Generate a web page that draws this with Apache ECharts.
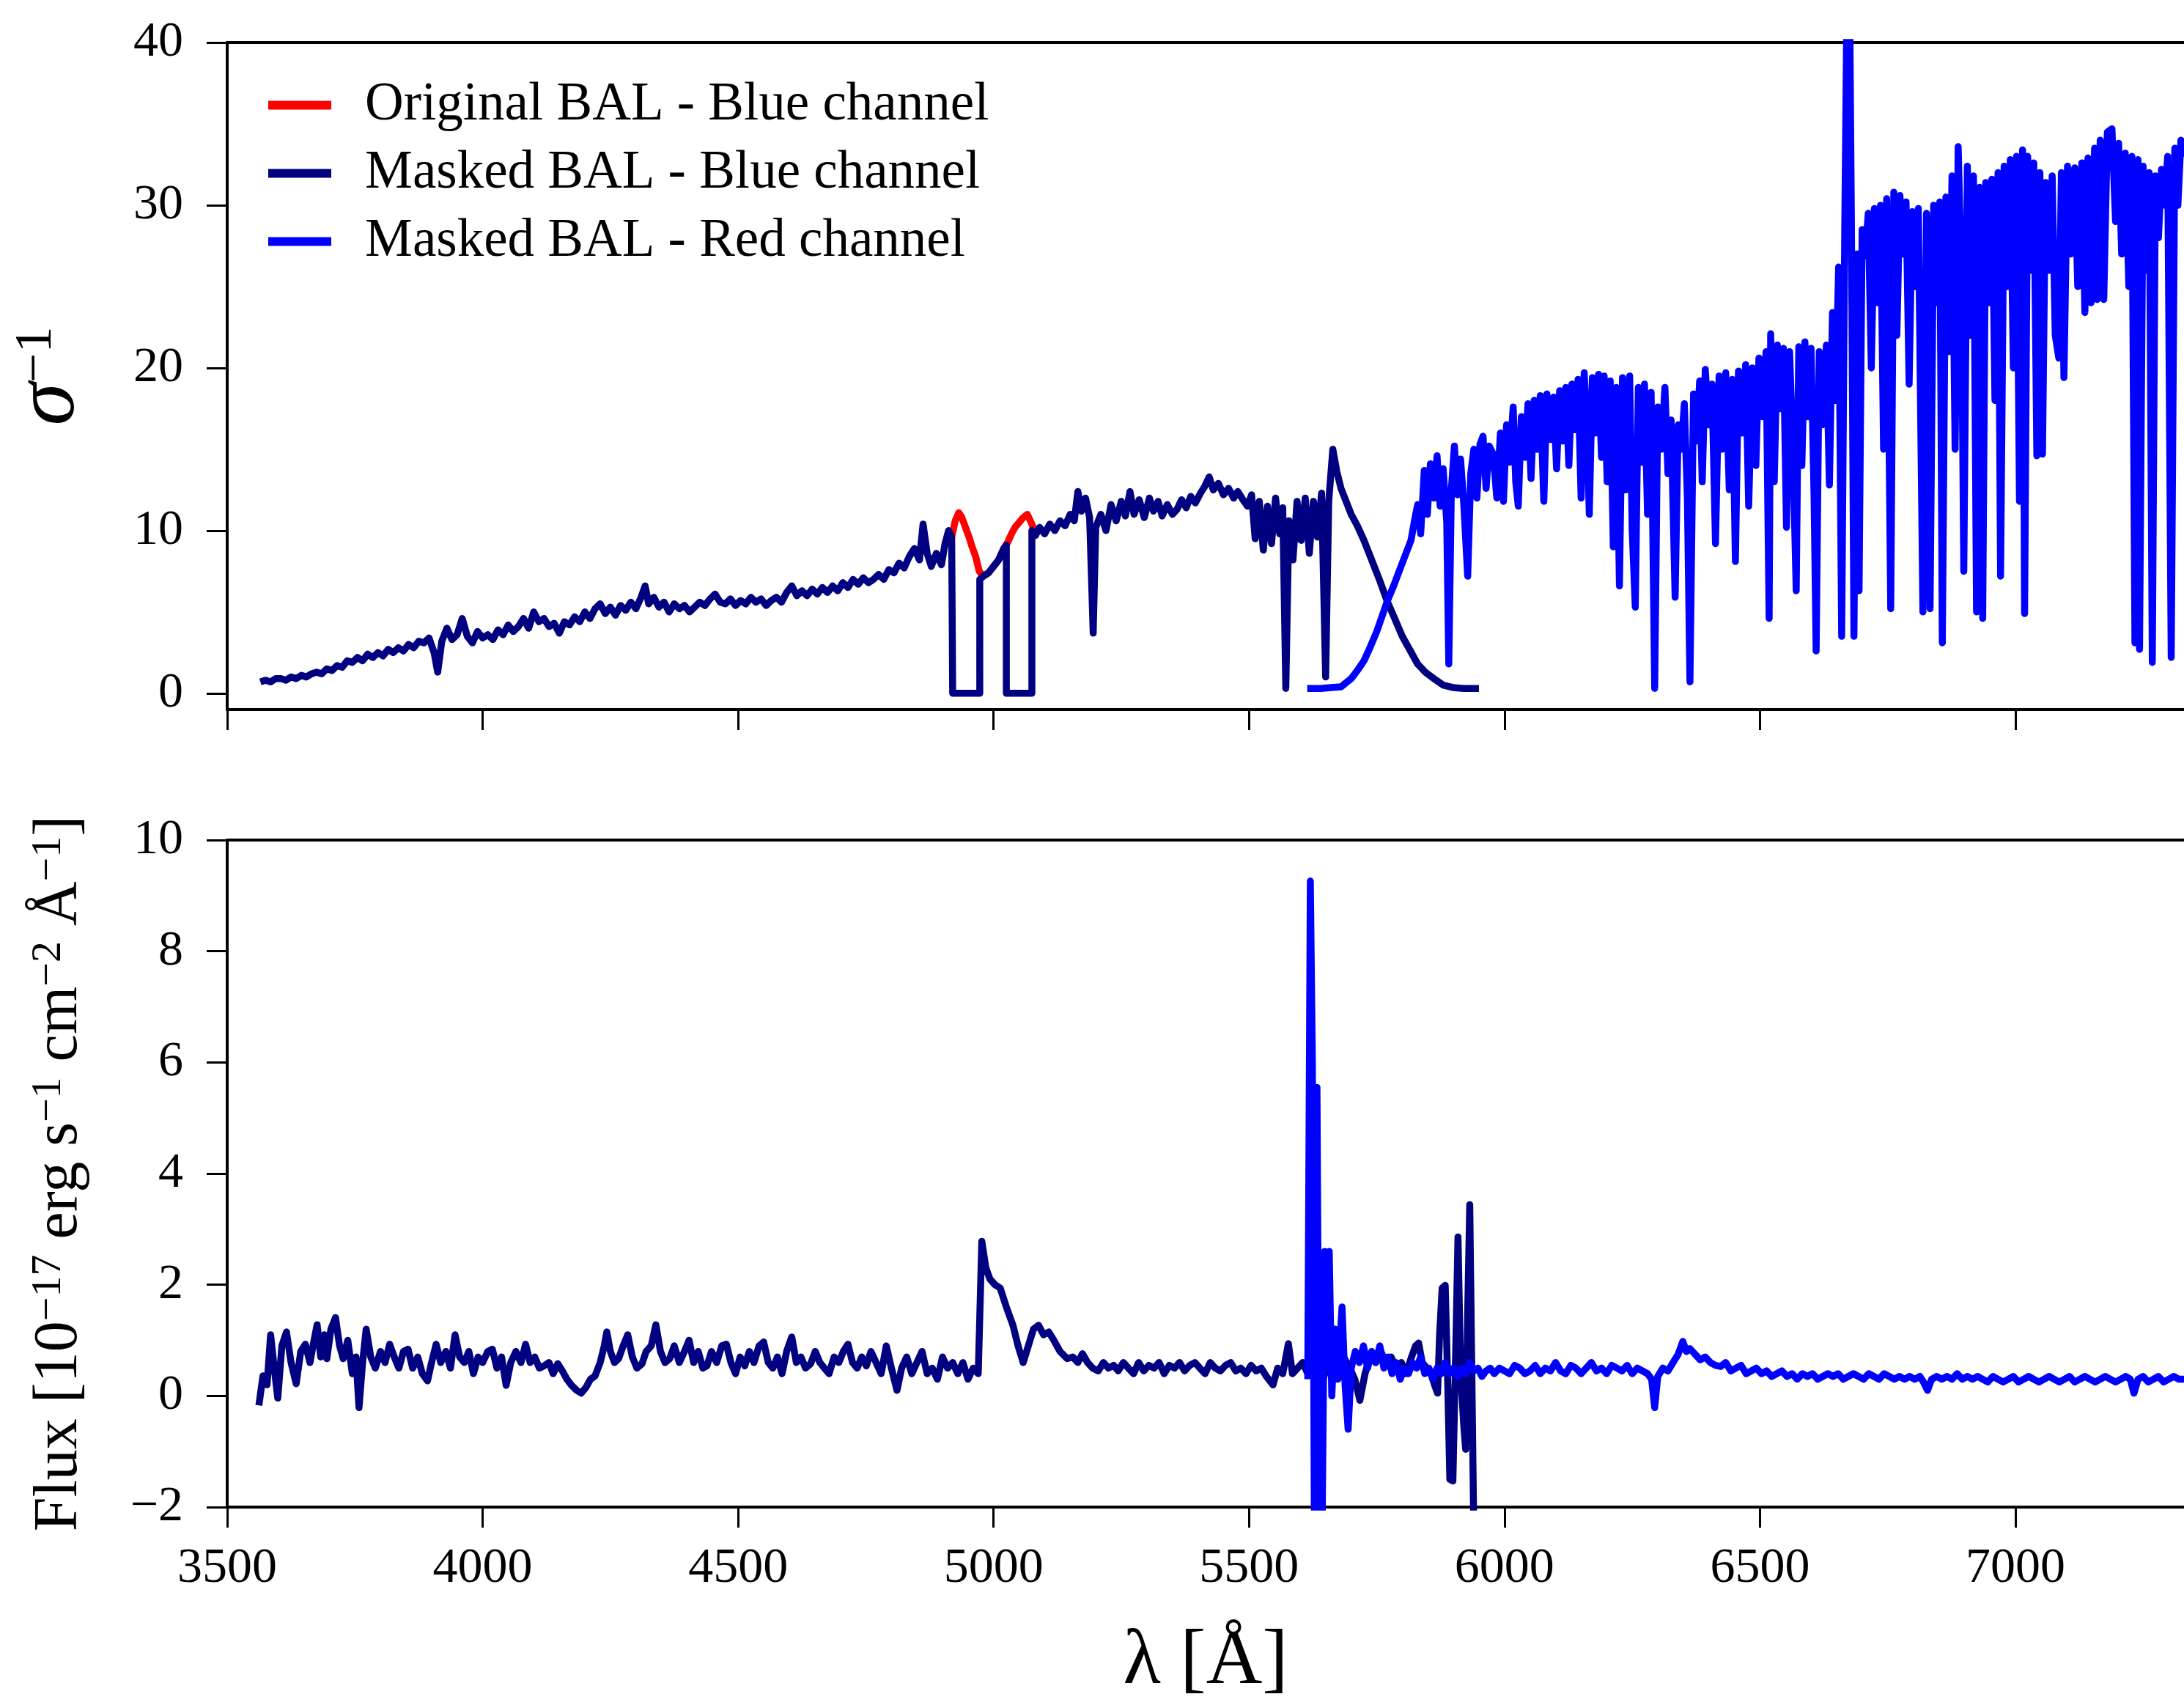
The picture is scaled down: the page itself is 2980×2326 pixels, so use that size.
<!DOCTYPE html>
<html><head><meta charset="utf-8">
<script src="https://cdn.jsdelivr.net/npm/echarts@6/dist/echarts.min.js"></script>
<style>html,body{margin:0;padding:0;background:#fff}#c{width:2980px;height:2326px}</style>
</head><body><div id="c"></div>
<script>
// ---------- tick labels ----------
const xTicks = [3500, 4000, 4500, 5000, 5500, 6000, 6500, 7000];
const sigmaTicks = [0, 10, 20, 30, 40];
const seriesNames = ['Original BAL - Blue channel', 'Masked BAL - Blue channel', 'Masked BAL - Red channel'];

// ---------- top panel: inverse noise sigma^-1 ----------
const sigmaOriginalBlue = [
[4912,10.0],[4918,9.6],[4925,10.6],[4932,11.1],[4938,10.8],[4945,10.2],[4952,9.6],[4958,9.0],[4965,8.4],[4972,7.5],
[4980,7.2],[4990,7.4],[5000,7.8],[5010,8.2],[5020,8.9],[5028,9.3],[5035,9.8],[5042,10.2],[5050,10.5],[5058,10.8],
[5066,11.0],[5075,10.4],[5082,9.7]
];
const sigmaMaskedBlue = [
[3565,0.7],[3575,0.8],[3585,0.7],[3595,0.9],[3605,0.9],[3615,0.8],[3625,1.0],[3635,0.9],[3645,1.1],[3655,1.0],
[3665,1.2],[3675,1.3],[3685,1.2],[3695,1.5],[3705,1.4],[3715,1.7],[3725,1.6],[3735,2.0],[3745,1.9],[3755,2.2],
[3765,2.0],[3775,2.4],[3785,2.2],[3795,2.5],[3805,2.3],[3815,2.7],[3825,2.5],[3835,2.8],[3845,2.6],[3855,3.0],
[3865,2.8],[3875,3.2],[3885,3.1],[3895,3.4],[3905,2.5],[3912,1.3],[3920,3.2],[3930,4.0],[3940,3.3],[3950,3.6],
[3960,4.6],[3970,3.5],[3980,3.1],[3990,3.8],[4000,3.4],[4010,3.6],[4020,3.3],[4030,3.9],[4040,3.6],[4050,4.2],
[4060,3.8],[4070,4.1],[4080,4.6],[4090,4.0],[4100,5.0],[4110,4.4],[4120,4.6],[4130,4.1],[4140,4.3],[4150,3.7],
[4160,4.4],[4170,4.2],[4180,4.7],[4190,4.4],[4200,5.0],[4210,4.6],[4220,5.2],[4230,5.5],[4240,4.9],[4250,5.3],
[4260,4.8],[4270,5.4],[4280,5.1],[4290,5.6],[4300,5.2],[4310,5.9],[4318,6.6],[4325,5.5],[4335,5.9],[4345,5.3],
[4355,5.6],[4365,5.0],[4375,5.5],[4385,5.2],[4395,5.4],[4405,5.0],[4415,5.3],[4425,5.6],[4435,5.4],[4445,5.8],
[4455,6.1],[4465,5.6],[4475,5.5],[4485,5.8],[4495,5.4],[4505,5.7],[4515,5.5],[4525,5.9],[4535,5.6],[4545,5.8],
[4555,5.4],[4565,5.7],[4575,5.9],[4585,5.6],[4595,6.2],[4605,6.6],[4615,6.0],[4625,6.3],[4635,6.0],[4645,6.4],
[4655,6.1],[4665,6.5],[4675,6.2],[4685,6.6],[4695,6.3],[4705,6.8],[4715,6.5],[4725,7.0],[4735,6.7],[4745,7.1],
[4755,6.8],[4765,7.0],[4775,7.3],[4785,7.0],[4795,7.6],[4805,7.4],[4815,8.0],[4825,7.7],[4835,8.4],[4845,8.9],
[4855,8.2],[4862,10.4],[4870,8.6],[4878,7.8],[4888,8.6],[4898,7.9],[4905,9.2],[4912,10.0],[4918,9.6],[4920,9.6],
[4920,0],[4973,0],[4973,7.0],[4980,7.2],[4990,7.4],[5000,7.8],[5010,8.2],[5020,8.9],[5025,9.1],[5025,0],
[5075,0],[5075,10.0],[5082,9.7],[5090,10.2],[5100,9.8],[5110,10.4],[5120,10.0],[5130,10.6],[5140,10.3],[5150,11.0],
[5158,10.6],[5165,12.4],[5172,11.2],[5180,12.0],[5188,10.8],[5195,3.7],[5200,10.2],[5210,11.0],[5220,10.0],[5230,11.6],
[5240,10.6],[5250,11.8],[5258,10.9],[5267,12.4],[5275,11.0],[5285,11.9],[5295,10.8],[5305,12.0],[5313,11.2],[5322,11.8],
[5330,10.9],[5340,11.6],[5350,11.0],[5359,11.3],[5368,11.9],[5377,11.4],[5386,12.1],[5395,11.7],[5405,12.3],[5413,12.7],
[5422,13.3],[5430,12.5],[5440,12.9],[5450,12.2],[5460,12.6],[5470,12.0],[5478,12.4],[5488,11.9],[5497,11.5],[5505,12.2],
[5512,9.5],[5520,11.8],[5528,8.8],[5536,11.5],[5544,9.2],[5552,12.0],[5560,9.8],[5566,11.4],[5572,0.3],[5578,10.6],
[5586,8.2],[5594,11.8],[5602,9.4],[5610,12.0],[5618,8.6],[5626,11.8],[5634,9.6],[5642,12.3],[5650,1.0],[5656,11.8],
[5664,15.0],[5672,13.6],[5680,12.6],[5690,11.8],[5700,11.0],[5712,10.3],[5725,9.4],[5740,8.2],[5755,7.0],[5770,5.7],
[5785,4.6],[5800,3.5],[5816,2.6],[5830,1.8],[5845,1.3],[5862,0.9],[5880,0.5],[5900,0.35],[5920,0.3],[5950,0.3]
];
const sigmaMaskedRed = [
[5614,0.3],[5640,0.3],[5660,0.35],[5680,0.4],[5700,0.9],[5712,1.4],[5725,2.0],[5738,2.9],[5750,3.8],[5760,4.7],
[5771,5.7],[5783,6.6],[5795,7.6],[5806,8.5],[5817,9.4],[5825,10.8],[5830,11.6],[5836,9.8],[5843,13.7],[5849,11.0],
[5855,14.1],[5862,12.0],[5868,14.6],[5874,11.5],[5880,13.8],[5887,10.5],[5891,1.8],[5896,12.5],[5902,15.2],[5908,12.2],
[5914,14.4],[5920,11.8],[5928,7.2],[5934,13.5],[5940,15.0],[5946,12.0],[5952,15.3],[5958,15.8],[5964,12.6],[5970,15.2],
[5978,14.7],[5985,12.0],[5992,16.0],[5998,11.8],[6004,16.5],[6010,14.2],[6017,17.6],[6022,13.0],[6027,11.5],[6033,17.0],
[6040,14.5],[6046,17.8],[6052,13.2],[6058,18.0],[6064,15.0],[6070,18.3],[6077,11.8],[6083,18.4],[6090,15.6],[6096,18.2],
[6102,13.8],[6108,18.6],[6114,15.5],[6120,18.8],[6126,14.0],[6132,19.0],[6138,16.2],[6144,19.3],[6150,12.0],[6156,19.7],
[6162,15.8],[6166,11.0],[6172,19.4],[6178,16.0],[6184,19.6],[6190,14.5],[6195,19.5],[6201,13.0],[6207,19.2],[6213,9.0],
[6219,18.8],[6225,6.6],[6231,19.4],[6237,12.5],[6245,19.5],[6250,10.0],[6256,5.3],[6262,18.8],[6268,14.2],[6274,19.0],
[6280,11.0],[6287,18.5],[6294,0.3],[6300,17.6],[6307,15.0],[6314,18.8],[6320,13.5],[6326,16.8],[6334,5.9],[6340,16.5],
[6346,15.0],[6352,17.8],[6358,12.0],[6363,0.7],[6370,18.4],[6376,15.5],[6382,19.2],[6387,13.0],[6393,19.9],[6400,16.5],
[6406,19.0],[6413,9.2],[6420,19.5],[6426,15.0],[6433,19.7],[6440,12.5],[6446,19.3],[6452,8.1],[6458,19.8],[6465,16.0],
[6472,20.2],[6478,11.5],[6485,20.0],[6492,14.0],[6498,20.6],[6505,17.0],[6512,21.0],[6518,4.6],[6521,22.1],[6528,13.0],
[6534,21.4],[6540,17.5],[6546,21.2],[6552,10.2],[6558,21.0],[6564,15.5],[6571,6.3],[6576,21.3],[6582,14.0],[6588,21.6],
[6594,17.0],[6600,21.2],[6606,12.0],[6610,2.6],[6616,21.0],[6622,16.5],[6630,21.4],[6636,12.8],[6642,23.4],[6648,18.0],
[6654,26.2],[6660,3.5],[6666,28.5],[6671,45],[6675,45],[6679,29.0],[6684,3.5],[6690,27.0],[6694,6.3],[6700,28.5],
[6706,26.9],[6712,29.5],[6718,20.0],[6724,29.8],[6730,24.0],[6736,30.0],[6742,15.0],[6748,30.4],[6756,5.2],[6762,30.8],
[6768,22.0],[6774,30.6],[6780,27.0],[6786,30.2],[6792,19.0],[6798,29.6],[6804,25.0],[6810,29.8],[6819,5.0],[6826,29.5],
[6833,5.2],[6840,30.0],[6846,24.0],[6852,30.2],[6857,3.1],[6864,30.5],[6870,21.0],[6876,31.8],[6882,15.0],[6888,33.6],
[6894,26.0],[6899,7.5],[6906,32.4],[6912,22.0],[6918,31.8],[6924,5.0],[6930,31.1],[6936,4.6],[6942,31.4],[6948,24.0],
[6954,31.6],[6960,18.0],[6966,32.0],[6971,7.2],[6978,32.4],[6984,25.0],[6990,32.8],[6996,20.0],[7002,33.0],[7008,11.8],
[7014,33.4],[7018,4.9],[7024,33.0],[7030,26.0],[7036,32.6],[7042,14.6],[7048,32.0],[7053,14.7],[7059,31.4],[7066,26.0],
[7072,31.8],[7078,22.0],[7085,20.6],[7090,32.0],[7095,19.4],[7102,32.4],[7108,27.0],[7116,32.3],[7122,25.0],[7130,32.6],
[7136,23.4],[7142,32.9],[7148,24.0],[7155,33.5],[7160,24.2],[7166,34.0],[7173,24.2],[7180,34.5],[7189,34.7],[7196,29.0],
[7202,33.8],[7208,27.0],[7215,33.2],[7222,25.0],[7228,33.0],[7234,3.1],[7240,32.8],[7243,2.7],[7250,32.4],[7256,26.0],
[7262,32.0],[7268,1.9],[7274,31.8],[7280,28.0],[7286,32.2],[7292,30.0],[7298,33.0],[7305,2.2],[7312,33.5],[7318,30.0],
[7324,34.0],[7332,33.0]
];

// ---------- bottom panel: flux ----------
const fluxMaskedBlue = [
[3562,-0.17],[3570,0.36],[3578,0.2],[3585,1.1],[3592,0.5],[3599,-0.04],[3607,0.9],[3616,1.15],[3625,0.6],[3635,0.22],
[3644,0.8],[3653,0.93],[3662,0.6],[3670,1.0],[3676,1.28],[3683,0.7],[3690,1.1],[3695,0.67],[3703,1.2],[3712,1.41],
[3720,0.9],[3727,0.67],[3736,1.0],[3745,0.4],[3752,0.7],[3758,-0.21],[3765,0.6],[3772,1.2],[3781,0.7],[3790,0.5],
[3800,0.8],[3809,0.6],[3818,0.93],[3827,0.7],[3836,0.5],[3845,0.8],[3854,0.84],[3863,0.5],[3873,0.7],[3882,0.4],
[3892,0.27],[3900,0.6],[3909,0.93],[3918,0.6],[3928,0.8],[3937,0.5],[3946,1.1],[3955,0.7],[3964,0.6],[3973,0.8],
[3982,0.4],[3991,0.7],[4000,0.6],[4010,0.8],[4019,0.84],[4028,0.5],[4037,0.7],[4046,0.19],[4055,0.6],[4065,0.8],
[4075,0.6],[4084,0.93],[4093,0.6],[4102,0.7],[4111,0.5],[4120,0.54],[4130,0.6],[4138,0.4],[4147,0.58],[4156,0.45],
[4165,0.3],[4174,0.19],[4184,0.1],[4193,0.05],[4202,0.15],[4211,0.3],[4220,0.36],[4230,0.6],[4238,0.9],[4243,1.15],
[4250,0.8],[4258,0.6],[4266,0.67],[4275,0.9],[4284,1.1],[4293,0.7],[4302,0.5],[4312,0.58],[4320,0.8],[4330,0.9],
[4339,1.28],[4348,0.8],[4357,0.6],[4366,0.67],[4375,0.9],[4385,0.6],[4395,0.8],[4404,1.0],[4413,0.6],[4422,0.8],
[4431,0.5],[4439,0.54],[4448,0.8],[4458,0.6],[4468,0.9],[4477,0.93],[4486,0.6],[4495,0.4],[4504,0.7],[4513,0.54],
[4522,0.8],[4531,0.6],[4541,0.9],[4550,0.97],[4559,0.6],[4568,0.5],[4577,0.7],[4586,0.4],[4595,0.8],[4605,1.06],
[4614,0.6],[4623,0.7],[4632,0.5],[4642,0.58],[4651,0.8],[4660,0.6],[4669,0.5],[4678,0.4],[4688,0.7],[4697,0.6],
[4706,0.8],[4715,0.93],[4724,0.6],[4733,0.5],[4742,0.7],[4751,0.54],[4760,0.8],[4770,0.6],[4780,0.4],[4790,0.9],
[4800,0.5],[4811,0.1],[4820,0.5],[4830,0.7],[4840,0.4],[4850,0.6],[4860,0.8],[4870,0.4],[4880,0.5],[4890,0.3],
[4900,0.7],[4910,0.5],[4920,0.6],[4930,0.4],[4940,0.6],[4950,0.3],[4960,0.5],[4970,0.4],[4977,2.78],[4985,2.3],
[4993,2.1],[5003,2.0],[5013,1.94],[5025,1.6],[5038,1.27],[5048,0.9],[5058,0.6],[5068,0.9],[5078,1.2],[5088,1.27],
[5098,1.1],[5108,1.15],[5118,1.0],[5130,0.8],[5144,0.67],[5155,0.7],[5165,0.6],[5174,0.76],[5184,0.6],[5194,0.5],
[5205,0.45],[5215,0.6],[5225,0.5],[5235,0.55],[5244,0.45],[5254,0.6],[5264,0.5],[5274,0.4],[5284,0.6],[5294,0.45],
[5304,0.55],[5314,0.5],[5324,0.6],[5334,0.4],[5344,0.55],[5354,0.5],[5364,0.6],[5374,0.45],[5384,0.55],[5394,0.6],
[5404,0.5],[5414,0.4],[5424,0.6],[5434,0.5],[5444,0.45],[5454,0.55],[5464,0.6],[5474,0.45],[5484,0.5],[5494,0.4],
[5504,0.55],[5514,0.45],[5524,0.5],[5534,0.35],[5547,0.2],[5556,0.5],[5566,0.4],[5577,0.94],[5585,0.4],[5595,0.5],
[5605,0.6],[5615,0.4],[5625,0.7],[5635,0.5],[5645,0.3],[5655,0.6],[5665,0.8],[5675,0.5],[5685,0.7],[5697,0.5],
[5707,0.3],[5717,-0.08],[5727,0.4],[5737,0.7],[5748,0.6],[5758,0.8],[5768,0.6],[5778,0.7],[5788,0.5],[5798,0.6],
[5808,0.4],[5818,0.7],[5826,0.9],[5832,0.95],[5839,0.6],[5848,0.5],[5856,0.4],[5863,0.2],[5869,0.05],[5873,1.1],
[5878,1.94],[5884,1.99],[5889,0.2],[5893,-1.5],[5899,-1.53],[5905,1.0],[5909,2.86],[5914,0.5],[5920,-0.5],[5924,-0.96],
[5928,1.5],[5932,3.44],[5936,0.5],[5940,-2.5],[5944,-2.5]
];
const fluxMaskedRed = [
[5615,0.3],[5620,9.26],[5624,6.0],[5628,-2.5],[5633,5.55],[5638,-2.5],[5643,-2.5],[5648,2.6],[5652,0.5],[5657,2.6],
[5662,0.0],[5668,1.2],[5674,0.3],[5682,1.6],[5688,0.2],[5694,-0.6],[5700,0.5],[5708,0.8],[5716,0.6],[5724,0.9],
[5732,0.5],[5740,0.8],[5748,0.6],[5756,0.9],[5764,0.5],[5772,0.7],[5780,0.4],[5788,0.6],[5796,0.3],[5804,0.5],
[5812,0.4],[5820,0.6],[5828,0.5],[5836,0.7],[5844,0.4],[5852,0.5],[5860,0.3],[5868,0.5],[5876,0.4],[5884,0.6],
[5892,0.4],[5900,0.5],[5908,0.35],[5916,0.5],[5924,0.4],[5932,0.6],[5940,0.45],[5948,0.5],[5956,0.35],[5964,0.45],
[5972,0.5],[5980,0.4],[5990,0.5],[6000,0.45],[6010,0.4],[6020,0.55],[6030,0.5],[6040,0.4],[6050,0.45],[6060,0.55],
[6070,0.4],[6080,0.5],[6090,0.45],[6100,0.6],[6110,0.45],[6120,0.4],[6130,0.55],[6140,0.5],[6150,0.4],[6160,0.5],
[6170,0.6],[6180,0.45],[6190,0.5],[6200,0.4],[6210,0.55],[6220,0.5],[6230,0.45],[6240,0.55],[6250,0.4],[6260,0.5],
[6270,0.45],[6280,0.4],[6288,0.3],[6294,-0.21],[6300,0.35],[6310,0.5],[6320,0.45],[6330,0.6],[6340,0.75],[6349,0.98],
[6356,0.8],[6363,0.85],[6373,0.75],[6383,0.65],[6393,0.7],[6403,0.6],[6413,0.55],[6423,0.53],[6433,0.6],[6443,0.45],
[6453,0.5],[6463,0.55],[6473,0.4],[6483,0.45],[6493,0.5],[6503,0.4],[6513,0.45],[6523,0.35],[6533,0.4],[6543,0.45],
[6553,0.35],[6563,0.4],[6573,0.3],[6583,0.4],[6593,0.35],[6603,0.4],[6613,0.3],[6623,0.35],[6633,0.4],[6643,0.35],
[6653,0.4],[6663,0.3],[6673,0.35],[6683,0.4],[6693,0.35],[6703,0.3],[6713,0.4],[6723,0.35],[6733,0.3],[6743,0.4],
[6753,0.35],[6763,0.3],[6773,0.35],[6783,0.3],[6793,0.35],[6803,0.3],[6813,0.35],[6820,0.25],[6828,0.1],[6836,0.3],
[6846,0.35],[6856,0.3],[6866,0.35],[6876,0.3],[6886,0.4],[6896,0.3],[6906,0.35],[6916,0.3],[6926,0.35],[6936,0.3],
[6946,0.25],[6956,0.35],[6966,0.3],[6976,0.25],[6986,0.3],[6996,0.35],[7006,0.25],[7016,0.3],[7026,0.35],[7036,0.3],
[7046,0.25],[7056,0.3],[7066,0.35],[7076,0.3],[7086,0.25],[7096,0.3],[7106,0.35],[7116,0.25],[7126,0.3],[7136,0.35],
[7146,0.3],[7156,0.25],[7166,0.3],[7176,0.35],[7186,0.3],[7196,0.25],[7206,0.3],[7216,0.35],[7225,0.3],[7232,0.05],
[7240,0.3],[7250,0.35],[7260,0.25],[7270,0.3],[7280,0.35],[7290,0.25],[7300,0.3],[7310,0.35],[7320,0.3],[7332,0.3]
];

// ---------- styling ----------
const FONT = 'Liberation Serif';
const C_RED = '#ff0000', C_NAVY = '#000080', C_BLUE = '#0000ff';
const LW = 9.5;
const minusFmt = v => (v < 0 ? '\u2212' + Math.abs(v) : String(v));

function spineX(gridIndex, pos, withTicks, withLabels, extra) {
  return Object.assign({
    type: 'value', gridIndex, position: pos, min: 3500, max: 7330,
    axisLine: { show: true, onZero: false, lineStyle: { color: '#000', width: 4 } },
    axisTick: { show: withTicks, inside: false, length: 28, customValues: xTicks, lineStyle: { color: '#000', width: 3 } },
    axisLabel: { show: withLabels, customValues: xTicks, margin: 50, fontFamily: FONT, fontSize: 68, color: '#000',
      formatter: v => String(v) },
    splitLine: { show: false }
  }, extra || {});
}
function line(name, data, color, xi, yi, z) {
  return { name, type: 'line', data, xAxisIndex: xi, yAxisIndex: yi, showSymbol: false, symbol: 'none',
    clip: true, z, lineStyle: { color, width: LW, join: 'round', cap: 'butt' }, itemStyle: { color },
    emphasis: { disabled: true } };
}

const chart = echarts.init(document.getElementById('c'), null, { renderer: 'canvas' });
chart.setOption({
  animation: false,
  backgroundColor: '#ffffff',
  grid: [
    { left: 310, right: 0, top: 58, height: 910 },
    { left: 310, right: 0, top: 1146, height: 910 }
  ],
  legend: {
    data: seriesNames, orient: 'vertical', left: 361, top: 102, icon: 'rect',
    itemWidth: 86, itemHeight: 12, itemGap: 20, selectedMode: false,
    formatter: n => '{t|' + n + '}',
    textStyle: { fontFamily: FONT, fontSize: 73, color: '#000',
      rich: { t: { fontFamily: FONT, fontSize: 73, color: '#000', lineHeight: 76, padding: [0, 0, 0, 41] } } }
  },
  xAxis: [
    spineX(0, 'bottom', true, false),
    spineX(0, 'top', false, false),
    spineX(1, 'bottom', true, true, {
      name: 'λ [Å]', nameLocation: 'middle', nameGap: 156,
      nameTextStyle: { fontFamily: FONT, fontSize: 106, color: '#000', lineHeight: 112 }
    }),
    spineX(1, 'top', false, false)
  ],
  yAxis: [
    { type: 'value', gridIndex: 0, min: -1, max: 40,
      axisLine: { show: true, onZero: false, lineStyle: { color: '#000', width: 4 } },
      axisTick: { show: true, length: 28, customValues: sigmaTicks, lineStyle: { color: '#000', width: 3 } },
      axisLabel: { customValues: sigmaTicks, margin: 60, fontFamily: FONT, fontSize: 68, color: '#000', formatter: minusFmt },
      splitLine: { show: false },
      name: '{a|σ}{b|\u22121}', nameLocation: 'middle', nameGap: 186,
      nameTextStyle: { rich: {
        a: { fontFamily: FONT, fontStyle: 'italic', fontSize: 118, lineHeight: 110, color: '#000' },
        b: { fontFamily: FONT, fontSize: 72, lineHeight: 60, verticalAlign: 'top', color: '#000' } } }
    },
    { type: 'value', gridIndex: 1, min: -2, max: 10, interval: 2,
      axisLine: { show: true, onZero: false, lineStyle: { color: '#000', width: 4 } },
      axisTick: { show: true, length: 28, lineStyle: { color: '#000', width: 3 } },
      axisLabel: { margin: 60, fontFamily: FONT, fontSize: 68, color: '#000', formatter: minusFmt },
      splitLine: { show: false },
      name: '{n|Flux [10}{s|\u221217}{n| erg s}{s|\u22121}{n| cm}{s|\u22122}{n| Å}{s|\u22121}{n|]}',
      nameLocation: 'middle', nameGap: 184,
      nameTextStyle: { rich: {
        n: { fontFamily: FONT, fontSize: 84, lineHeight: 88, color: '#000' },
        s: { fontFamily: FONT, fontSize: 58, lineHeight: 56, verticalAlign: 'top', color: '#000' } } }
    }
  ],
  series: [
    line(seriesNames[0], sigmaOriginalBlue, C_RED, 0, 0, 2),
    line(seriesNames[1], sigmaMaskedBlue, C_NAVY, 0, 0, 3),
    line(seriesNames[2], sigmaMaskedRed, C_BLUE, 0, 0, 4),
    line(seriesNames[1], fluxMaskedBlue, C_NAVY, 2, 1, 3),
    line(seriesNames[2], fluxMaskedRed, C_BLUE, 2, 1, 4)
  ]
});
</script>
</body></html>
